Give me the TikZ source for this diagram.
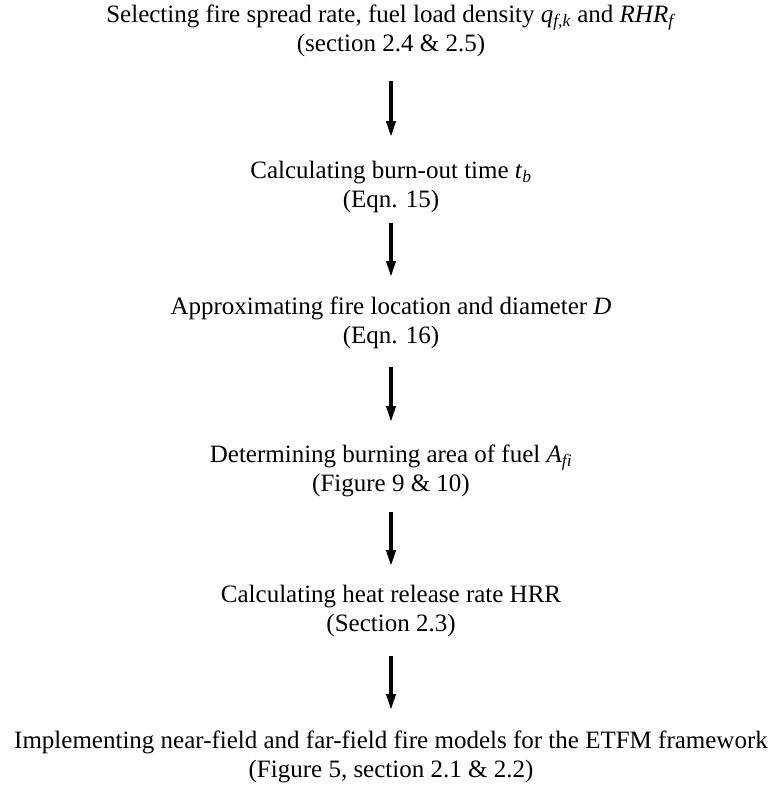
\documentclass[tikz,border=0pt]{standalone}
\usepackage{fontspec}
\setmainfont{Liberation Serif}
\usetikzlibrary{arrows.meta}

\tikzset{
  stage/.style={inner sep=0pt, align=center, font=\fontsize{25}{28.5}\selectfont},
  flow/.style={line width=3.5pt, -{Triangle[length=16pt,width=9pt]}, shorten <=15pt, shorten >=24pt}
}

\begin{document}
\begin{tikzpicture}[x=1pt,y=1pt,yscale=-1,xscale=1]
		% Set diagram size to 773 x 787
		\useasboundingbox (0,0) rectangle (773,787);

		% The stages, top to bottom
		\node[stage] (select) at (391,31) {Selecting fire spread rate, fuel load density \textit{q}\textsubscript{\textit{f,k}} and \textit{RHR}\textsubscript{\textit{f}}\\(section 2.4 \& 2.5)};
		\node[stage] (burnout) at (391,187) {Calculating burn-out time \textit{t}\textsubscript{\textit{b}}\\(Eqn. 15)};
		\node[stage] (location) at (391,323) {Approximating fire location and diameter \textit{D}\\(Eqn. 16)};
		\node[stage] (area) at (391,471) {Determining burning area of fuel \textit{A}\textsubscript{\textit{fi}}\\(Figure 9 \& 10)};
		\node[stage] (hrr) at (391,611) {Calculating heat release rate HRR\\(Section 2.3)};
		\node[stage] (models) at (391,757) {Implementing near-field and far-field fire models for the ETFM framework\\(Figure 5, section 2.1 \& 2.2)};

		% Arrows between the stages (gaps tuned by hand)
		\draw[flow, shorten <=24pt] (select) -- (burnout);
		\draw[flow, shorten <=10pt, shorten >=20pt] (burnout) -- (location);
		\draw[flow, shorten <=18pt, shorten >=23pt] (location) -- (area);
		\draw[flow, shorten >=19pt] (area) -- (hrr);
		\draw[flow, shorten <=19pt, shorten >=21pt] (hrr) -- (models);
	\end{tikzpicture}
\end{document}
